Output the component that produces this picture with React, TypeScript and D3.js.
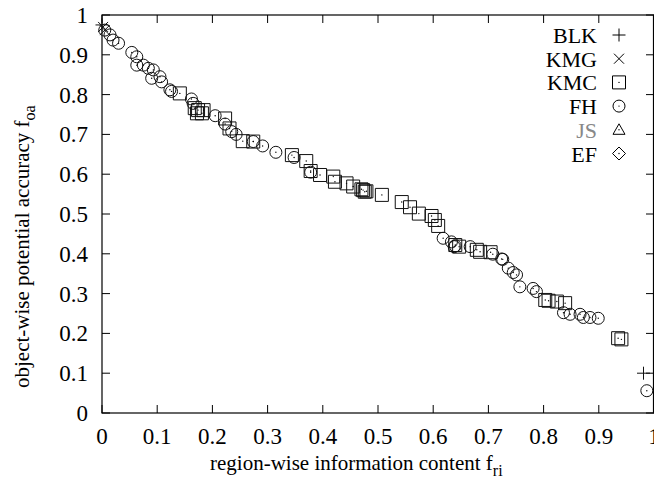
import React, { useEffect, useRef } from "react";
import * as d3 from "d3";

// series values: [region-wise info content, object-wise accuracy]
const blk: [number, number][] = [
  [0.0, 0.975],
  [0.981, 0.1],
];
const kmg: [number, number][] = [
  [0.002, 0.97],
  [0.005, 0.962],
];
const kmc: [number, number][] = [
  [0.141, 0.803], [0.168, 0.766], [0.172, 0.753], [0.174, 0.761], [0.181, 0.753],
  [0.184, 0.761], [0.223, 0.74], [0.231, 0.715], [0.255, 0.683], [0.274, 0.682],
  [0.344, 0.648], [0.37, 0.633], [0.378, 0.608], [0.395, 0.598], [0.419, 0.594],
  [0.422, 0.581], [0.443, 0.577], [0.455, 0.569], [0.47, 0.562], [0.473, 0.56],
  [0.476, 0.556], [0.479, 0.557], [0.507, 0.548], [0.543, 0.53], [0.558, 0.517],
  [0.574, 0.501], [0.597, 0.495], [0.603, 0.485], [0.609, 0.47], [0.64, 0.422],
  [0.647, 0.418], [0.679, 0.41], [0.685, 0.405], [0.704, 0.404], [0.803, 0.284],
  [0.809, 0.282], [0.824, 0.28], [0.839, 0.276], [0.935, 0.188], [0.941, 0.185],
];
const fh: [number, number][] = [
  [0.005, 0.962], [0.0145, 0.95], [0.02, 0.937], [0.03, 0.929], [0.054, 0.906],
  [0.063, 0.895], [0.063, 0.874], [0.075, 0.874], [0.084, 0.866], [0.093, 0.862],
  [0.09, 0.841], [0.105, 0.845], [0.108, 0.832], [0.123, 0.812], [0.126, 0.808],
  [0.162, 0.789], [0.165, 0.778], [0.205, 0.747], [0.223, 0.726], [0.235, 0.707],
  [0.243, 0.7], [0.274, 0.682], [0.291, 0.671], [0.315, 0.655], [0.348, 0.642],
  [0.378, 0.605], [0.618, 0.439], [0.633, 0.43], [0.638, 0.418], [0.64, 0.42],
  [0.667, 0.418], [0.708, 0.399], [0.724, 0.387], [0.726, 0.386], [0.736, 0.364],
  [0.745, 0.353], [0.751, 0.347], [0.757, 0.317], [0.781, 0.313], [0.787, 0.305],
  [0.836, 0.252], [0.848, 0.248], [0.866, 0.248], [0.872, 0.24], [0.884, 0.24],
  [0.899, 0.238], [0.987, 0.056],
];
const js: [number, number][] = [];
const ef: [number, number][] = [];

const xTicks = [0, 0.1, 0.2, 0.3, 0.4, 0.5, 0.6, 0.7, 0.8, 0.9, 1];
const yTicks = [0, 0.1, 0.2, 0.3, 0.4, 0.5, 0.6, 0.7, 0.8, 0.9, 1];
const tickLabel = (v: number) => (v === 0 || v === 1 ? String(v) : v.toFixed(1));

const FONT = "'Liberation Serif', 'Times New Roman', serif";

// marker outlines, centred on 0,0
const shapes: Record<string, string> = {
  plus: "M-6.5,0H6.5M0,-6.5V6.5",
  cross: "M-5,-5L5,5M-5,5L5,-5",
  square: "M-6.5,-6.5H6.5V6.5H-6.5Z",
  circle: "M6,0A6,6 0 1 1 -6,0A6,6 0 1 1 6,0Z",
  triangle: "M0,-6L6,4.5H-6Z",
  diamond: "M0,-6.5L6.5,0L0,6.5L-6.5,0Z",
};
const dotted = new Set(["square", "circle", "triangle", "diamond"]);

const series = [
  { name: "BLK", data: blk, shape: "plus", label: "#000" },
  { name: "KMG", data: kmg, shape: "cross", label: "#000" },
  { name: "KMC", data: kmc, shape: "square", label: "#000" },
  { name: "FH", data: fh, shape: "circle", label: "#000" },
  { name: "JS", data: js, shape: "triangle", label: "#888" },
  { name: "EF", data: ef, shape: "diamond", label: "#000" },
];

function Chart() {
  const svgRef = useRef<SVGSVGElement>(null);

  useEffect(() => {
    const svg = d3.select(svgRef.current);
    svg.selectAll("*").remove();

    const left = 102;
    const right = 654;
    const top = 15;
    const bottom = 413;

    const x = d3.scaleLinear().domain([0, 1]).range([left, right]);
    const y = d3.scaleLinear().domain([0, 1]).range([bottom, top]);

    const g = svg.append("g").attr("font-family", FONT).attr("font-size", 23);

    // ticks, mirrored on all sides, pointing inward
    const tl = 8;
    xTicks.forEach((t) => {
      g.append("line").attr("x1", x(t)).attr("x2", x(t)).attr("y1", bottom).attr("y2", bottom - tl).attr("stroke", "#000");
      g.append("line").attr("x1", x(t)).attr("x2", x(t)).attr("y1", top).attr("y2", top + tl).attr("stroke", "#000");
      g.append("text").attr("x", x(t)).attr("y", 444).attr("text-anchor", "middle").text(tickLabel(t));
    });
    yTicks.forEach((t) => {
      g.append("line").attr("x1", left).attr("x2", left + tl).attr("y1", y(t)).attr("y2", y(t)).attr("stroke", "#000");
      g.append("line").attr("x1", right).attr("x2", right - tl).attr("y1", y(t)).attr("y2", y(t)).attr("stroke", "#000");
      g.append("text").attr("x", 88).attr("y", y(t) + 8).attr("text-anchor", "end").text(tickLabel(t));
    });

    g.append("rect")
      .attr("x", left)
      .attr("y", top)
      .attr("width", right - left - 0.5)
      .attr("height", bottom - top)
      .attr("fill", "none")
      .attr("stroke", "#000")
      .attr("stroke-width", 1.2);

    // axis titles
    const xt = g.append("text").attr("x", 210).attr("y", 470).attr("font-size", 21);
    xt.append("tspan").text("region-wise information content f");
    xt.append("tspan").attr("dy", 6).attr("font-size", 16).text("ri");

    const yt = g.append("text").attr("transform", "translate(29,388) rotate(-90)").attr("font-size", 21);
    yt.append("tspan").text("object-wise potential accuracy f");
    yt.append("tspan").attr("dy", 6).attr("font-size", 16).text("oa");

    // points
    series.forEach((s) => {
      const pts = g.append("g");
      s.data.forEach(([vx, vy]) => {
        const p = pts.append("g").attr("transform", `translate(${x(vx)},${y(vy)})`);
        p.append("path").attr("d", shapes[s.shape]).attr("fill", "none").attr("stroke", "#111").attr("stroke-width", 1);
        if (dotted.has(s.shape)) p.append("circle").attr("r", 0.7).attr("fill", "#000");
      });
    });

    // legend
    series.forEach((s, i) => {
      const cy = 35 + i * 23.7;
      g.append("text")
        .attr("x", 597)
        .attr("y", cy + 8)
        .attr("text-anchor", "end")
        .attr("font-size", 22)
        .attr("fill", s.label)
        .text(s.name);
      const m = g.append("g").attr("transform", `translate(619,${cy})`);
      m.append("path").attr("d", shapes[s.shape]).attr("fill", "none").attr("stroke", "#000").attr("stroke-width", 1);
      if (dotted.has(s.shape)) m.append("circle").attr("r", 0.7).attr("fill", "#000");
    });
  }, []);

  return (
    <svg
      ref={svgRef}
      width={654}
      height={489}
      style={{ position: "absolute", left: 0, top: 0, background: "#fff" }}
    ></svg>
  );
}

export default function App() {
  return <Chart />;
}
